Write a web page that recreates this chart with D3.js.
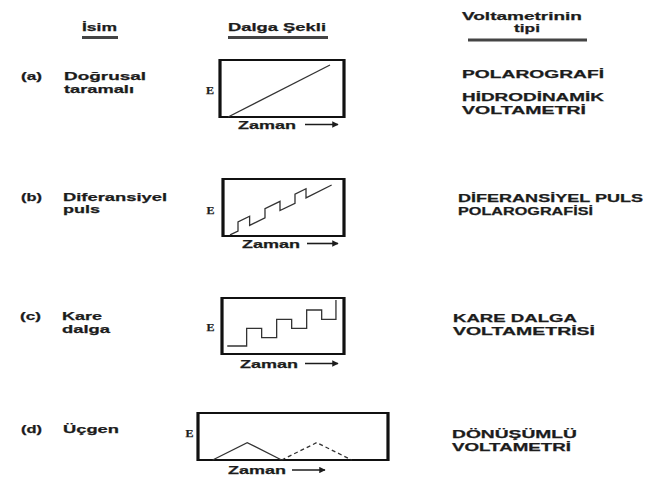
<!DOCTYPE html>
<html>
<head>
<meta charset="utf-8">
<script src="https://cdn.jsdelivr.net/npm/d3@7"></script>
<style>
body { margin: 0; background: #fff; }
</style>
</head>
<body>
<script>
// table content
var headers = ["İsim", "Dalga Şekli", "Voltametrinin", "tipi"];
var letters = ["(a)", "(b)", "(c)", "(d)"];
var names = [["Doğrusal", "taramalı"], ["Diferansiyel", "puls"], ["Kare", "dalga"], ["Üçgen"]];
var types = [["POLAROGRAFİ", "HİDRODİNAMİK", "VOLTAMETRİ"],
             ["DİFERANSİYEL PULS", "POLAROGRAFİSİ"],
             ["KARE DALGA", "VOLTAMETRİSİ"],
             ["DÖNÜŞÜMLÜ", "VOLTAMETRİ"]];
var axisE = "E", axisT = "Zaman";

// waveforms, [time, E] as fraction of the box
var waveA = [[0.065, 0], [0.887, 0.912]];
var waveB = [[0.058, 0.02], [0.124, 0.088], [0.124, 0.248], [0.22, 0.347], [0.22, 0.187],
             [0.347, 0.319], [0.347, 0.479], [0.471, 0.607], [0.471, 0.447],
             [0.595, 0.575], [0.595, 0.735], [0.686, 0.829], [0.686, 0.669], [0.898, 0.895]];
var waveC = [[0.043, 0.143], [0.202, 0.143], [0.202, 0.459], [0.325, 0.459], [0.325, 0.291],
             [0.448, 0.291], [0.448, 0.62], [0.571, 0.62], [0.571, 0.459], [0.694, 0.459],
             [0.694, 0.786], [0.817, 0.786], [0.817, 0.62], [0.934, 0.62], [0.934, 0.964]];
var waveD = [[0.077, 0], [0.259, 0.37], [0.44, 0]];
var waveD2 = [[0.44, 0], [0.625, 0.37], [0.809, 0]];
var waves = [[waveA], [waveB], [waveC], [waveD, waveD2]];

// layout of each row
var rows = [
  {lx: 21, ly: 80, nx: 64, ny: [80, 93], nw: [82, 70], tx: 462, ty: [78, 100.5, 113.5], tw: [142, 142, 124],
   box: [220, 60, 344, 117], ex: 206, ey: 94, zx: 238, zy: 128.5, ar: [305, 338, 124.5]},
  {lx: 21, ly: 200.5, nx: 63, ny: [200.5, 213], nw: [104, 37], tx: 458, ty: [201.5, 214.5], tw: [185, 135],
   box: [223, 179, 344, 236], ex: 206.5, ey: 214, zx: 242, zy: 247.5, ar: [307, 338, 243.5]},
  {lx: 20, ly: 320, nx: 62, ny: [320, 332.5], nw: [40, 48], tx: 453, ty: [322, 335], tw: [124, 142],
   box: [222, 298, 344, 354], ex: 206.5, ey: 330.5, zx: 240, zy: 367.5, ar: [305, 338, 363.5]},
  {lx: 21, ly: 433, nx: 63, ny: [433], nw: [56], tx: 452, ty: [438, 451], tw: [125, 119],
   box: [198, 413, 388, 460], ex: 185.5, ey: 437, zx: 228, zy: 474, ar: [292, 325, 470]}
];

var W = 656, H = 481;
var sans = "'Liberation Sans', Arial, sans-serif";
var ink = "#1c1c1c";

var svg = d3.select("body").append("svg")
  .attr("width", W)
  .attr("height", H);

svg.append("defs").append("marker")
  .attr("id", "head")
  .attr("viewBox", "0 0 10 10")
  .attr("refX", 9).attr("refY", 5)
  .attr("markerWidth", 4).attr("markerHeight", 4)
  .attr("orient", "auto")
  .append("path").attr("d", "M0,0L10,5L0,10z").attr("fill", ink);

function txt(g, s, x, y, w, size, family) {
  var t = g.append("text")
    .attr("x", x).attr("y", y)
    .attr("font-family", family || sans)
    .attr("font-size", size)
    .attr("font-weight", "bold")
    .attr("fill", ink)
    .attr("stroke", ink).attr("stroke-width", 0.25)
    .text(s);
  if (w) t.attr("textLength", w).attr("lengthAdjust", "spacingAndGlyphs");
  return t;
}

// headers + underlines
var head = svg.append("g").attr("class", "headers");
txt(head, headers[0], 82, 31, 35, 11.5);
txt(head, headers[1], 228, 31, 98, 11.5);
txt(head, headers[2], 462, 19.5, 120, 11.5);
txt(head, headers[3], 514, 31.5, 26, 11.5);
[[82, 118, 37.5], [228, 328, 37.5], [468, 587, 40]].forEach(function(u) {
  head.append("line")
    .attr("x1", u[0]).attr("x2", u[1])
    .attr("y1", u[2]).attr("y2", u[2])
    .attr("stroke", "#444").attr("stroke-width", 3);
});

var line = d3.line();

rows.forEach(function(r, i) {
  var g = svg.append("g").attr("class", "row row-" + i);

  txt(g, letters[i], r.lx, r.ly, 21, 11.5);
  names[i].forEach(function(s, k) { txt(g, s, r.nx, r.ny[k], r.nw[k], 11.5); });
  types[i].forEach(function(s, k) { txt(g, s, r.tx, r.ty[k], r.tw[k], 11.5); });

  var x = d3.scaleLinear().domain([0, 1]).range([r.box[0], r.box[2]]);
  var y = d3.scaleLinear().domain([0, 1]).range([r.box[3], r.box[1]]);
  line.x(function(d) { return x(d[0]); }).y(function(d) { return y(d[1]); });

  // box: thin top / bottom, heavy sides
  g.append("rect")
    .attr("x", x(0)).attr("y", y(1))
    .attr("width", x(1) - x(0)).attr("height", y(0) - y(1))
    .attr("fill", "none").attr("stroke", "#111").attr("stroke-width", 2);
  [0, 1].forEach(function(v) {
    g.append("line")
      .attr("x1", x(v)).attr("x2", x(v))
      .attr("y1", y(1) - 1).attr("y2", y(0) + 1)
      .attr("stroke", "#111").attr("stroke-width", 3.2);
  });

  waves[i].forEach(function(w, k) {
    g.append("path")
      .datum(w)
      .attr("d", line)
      .attr("fill", "none")
      .attr("stroke", "#333")
      .attr("stroke-width", 1.3)
      .attr("stroke-dasharray", k > 0 ? "4,3" : null);
  });

  txt(g, axisE, r.ex, r.ey, 8, 10.5, "'Liberation Serif', 'Times New Roman', serif");
  txt(g, axisT, r.zx, r.zy, 58, 11.5);
  g.append("line")
    .attr("x1", r.ar[0]).attr("x2", r.ar[1])
    .attr("y1", r.ar[2]).attr("y2", r.ar[2])
    .attr("stroke", ink).attr("stroke-width", 1.6)
    .attr("marker-end", "url(#head)");
});
</script>
</body>
</html>
